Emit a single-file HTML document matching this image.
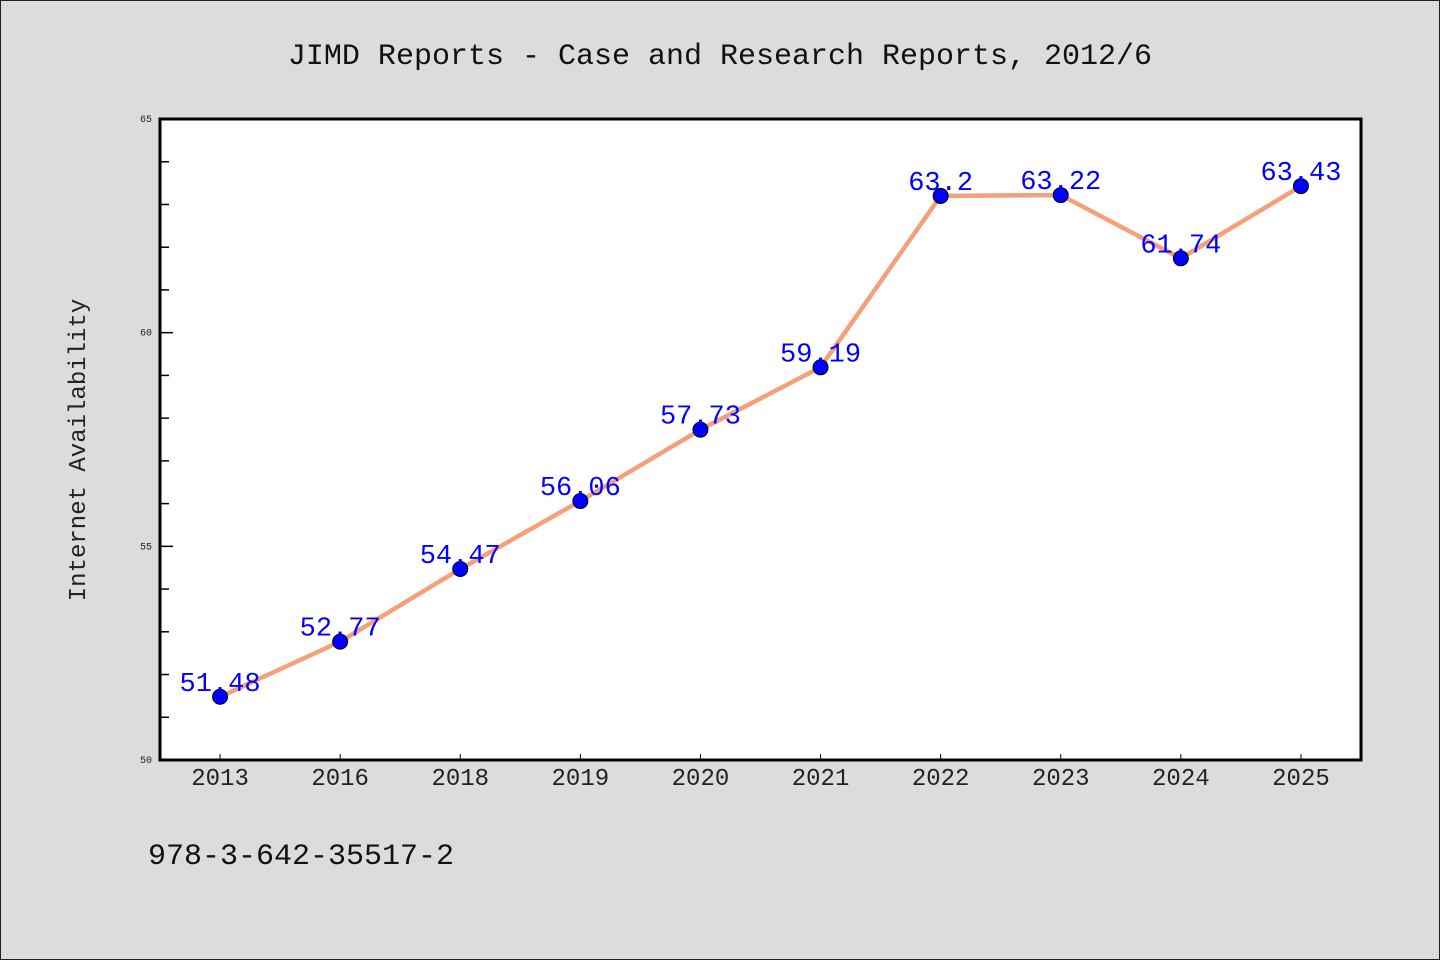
<!DOCTYPE html>
<html><head><meta charset="utf-8"><style>
html,body{margin:0;padding:0;background:#dcdcdc;}
svg{display:block;font-family:"Liberation Mono","WenQuanYi Zen Hei Mono",monospace;}
</style></head><body>
<svg id="chart" width="1440" height="960" xmlns="http://www.w3.org/2000/svg">
<rect x="0.5" y="0.5" width="1439" height="959" fill="#dcdcdc" stroke="#222" stroke-width="1"/>
<text x="720" y="64" text-anchor="middle" font-size="30" fill="#111">JIMD Reports - Case and Research Reports, 2012/6</text>
<rect x="160" y="119" width="1201" height="641" fill="#fff"/>
<g id="ticks"></g>
<g id="series"></g>
<rect x="160" y="119" width="1201" height="641" fill="none" stroke="#000" stroke-width="3"/>
<text transform="translate(85,450) rotate(-90)" text-anchor="middle" font-size="24" fill="#222">Internet Availability</text>
<text x="148" y="864" font-size="30" fill="#111">978-3-642-35517-2</text>
</svg>
<script>
const categories=["2013","2016","2018","2019","2020","2021","2022","2023","2024","2025"];
const values=[51.48,52.77,54.47,56.06,57.73,59.19,63.2,63.22,61.74,63.43];
const valueLabels=["51.48","52.77","54.47","56.06","57.73","59.19","63.2","63.22","61.74","63.43"];
const yTicks=[50,55,60,65];
const yMin=50,yMax=65;
const L=160,R=1361,T=119,B=760;
const NS="http://www.w3.org/2000/svg";
function x(i){return L+(R-L)/categories.length*(i+0.5);}
function y(v){return B-(v-yMin)/(yMax-yMin)*(B-T);}
function mk(tag,attrs,parent){const e=document.createElementNS(NS,tag);for(const k in attrs)e.setAttribute(k,attrs[k]);parent.appendChild(e);return e;}
const tg=document.getElementById('ticks');
for(let v=yMin;v<=yMax;v++){
  const major=yTicks.includes(v);
  const t=mk('line',{x1:L,x2:L+(major?13:9),y1:y(v),y2:y(v),stroke:'#000','stroke-width':1.5},tg);
  
  
}
yTicks.forEach(v=>{
  const t=mk('text',{x:152,y:y(v)+3,'text-anchor':'end','font-size':10,fill:'#222'},tg);
  t.textContent=v;
  
  
});
categories.forEach((c,i)=>{
  const t=mk('line',{x1:x(i),x2:x(i),y1:B,y2:B-6,stroke:'#000','stroke-width':1},tg);
  
  
  const l=mk('text',{x:x(i),y:785,'text-anchor':'middle','font-size':24,fill:'#222'},tg);
  l.textContent=c;
  
  
});
const sg=document.getElementById('series');
const line=mk('polyline',{points:values.map((v,i)=>x(i)+','+y(v)).join(' '),fill:'none',stroke:'#f4a07a','stroke-width':4.5,'stroke-linejoin':'round'},sg);


values.forEach((v,i)=>{
  const c=mk('circle',{cx:x(i),cy:y(v),r:7.5,fill:'#0000ff',stroke:'#000','stroke-width':1},sg);
  
  
});
values.forEach((v,i)=>{
  const t=mk('text',{x:x(i),y:y(v)-6,'text-anchor':'middle','font-size':27,fill:'#0000ff'},sg);
  t.textContent=valueLabels[i];
  
  
});
</script>
</body></html>
